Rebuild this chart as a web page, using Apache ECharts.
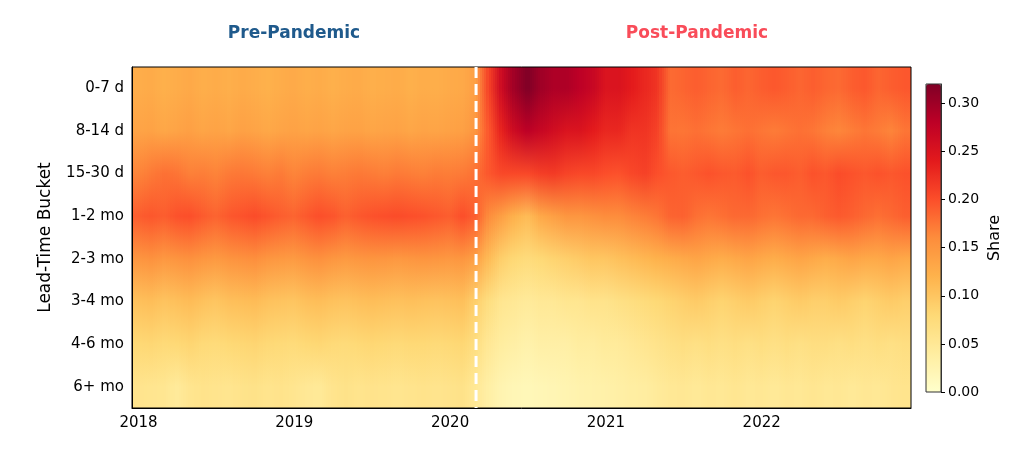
<!DOCTYPE html>
<html>
<head>
<meta charset="utf-8">
<script src="https://cdn.jsdelivr.net/npm/echarts@6/dist/echarts.min.js"></script>
<style>
  html, body { margin: 0; padding: 0; background: #fff; }
  #chart { width: 1024px; height: 455px; }
</style>
</head>
<body>
<div id="chart"></div>
<script>
// Lead-time buckets (top to bottom)
const buckets = ['0-7 d', '8-14 d', '15-30 d', '1-2 mo', '2-3 mo', '3-4 mo', '4-6 mo', '6+ mo'];

// Months Jan 2018 .. Dec 2022
const months = [];
for (let y = 2018; y <= 2022; y++) {
  for (let m = 1; m <= 12; m++) months.push(y + '-' + String(m).padStart(2, '0'));
}

const pandemicStart = '2020-03';

// share per month, one array per bucket
const share0to7d = [
  0.125, 0.128, 0.122, 0.126, 0.130, 0.124, 0.127, 0.123, 0.128, 0.125, 0.121, 0.126,
  0.129, 0.124, 0.127, 0.122, 0.126, 0.128, 0.123, 0.125, 0.127, 0.122, 0.126, 0.124,
  0.128, 0.130, 0.140, 0.210, 0.265, 0.300, 0.320, 0.300, 0.290, 0.290, 0.280, 0.270,
  0.250, 0.250, 0.240, 0.230, 0.220, 0.182, 0.186, 0.190, 0.186, 0.182, 0.190, 0.185,
  0.190, 0.194, 0.190, 0.185, 0.190, 0.185, 0.182, 0.190, 0.194, 0.185, 0.190, 0.194
];
const share8to14d = [
  0.135, 0.138, 0.132, 0.136, 0.140, 0.134, 0.137, 0.133, 0.139, 0.136, 0.131, 0.135,
  0.138, 0.134, 0.137, 0.133, 0.136, 0.138, 0.134, 0.136, 0.137, 0.133, 0.136, 0.135,
  0.138, 0.140, 0.150, 0.195, 0.235, 0.265, 0.280, 0.270, 0.260, 0.250, 0.250, 0.240,
  0.230, 0.230, 0.220, 0.220, 0.210, 0.176, 0.175, 0.179, 0.175, 0.171, 0.175, 0.179,
  0.175, 0.171, 0.175, 0.179, 0.175, 0.168, 0.164, 0.170, 0.175, 0.171, 0.165, 0.175
];
const share15to30d = [
  0.165, 0.172, 0.178, 0.176, 0.168, 0.170, 0.166, 0.172, 0.174, 0.172, 0.168, 0.172,
  0.165, 0.170, 0.172, 0.168, 0.170, 0.173, 0.171, 0.169, 0.172, 0.170, 0.168, 0.171,
  0.170, 0.172, 0.178, 0.195, 0.205, 0.205, 0.205, 0.212, 0.215, 0.208, 0.205, 0.205,
  0.200, 0.198, 0.205, 0.210, 0.200, 0.194, 0.190, 0.194, 0.198, 0.194, 0.192, 0.198,
  0.190, 0.194, 0.194, 0.190, 0.198, 0.194, 0.202, 0.198, 0.194, 0.198, 0.194, 0.198
];
const share1to2mo = [
  0.190, 0.195, 0.190, 0.198, 0.200, 0.192, 0.186, 0.194, 0.198, 0.202, 0.196, 0.190,
  0.186, 0.194, 0.200, 0.196, 0.188, 0.194, 0.198, 0.200, 0.202, 0.200, 0.198, 0.194,
  0.190, 0.200, 0.190, 0.160, 0.140, 0.120, 0.110, 0.130, 0.140, 0.150, 0.150, 0.155,
  0.160, 0.160, 0.165, 0.170, 0.175, 0.186, 0.188, 0.179, 0.175, 0.179, 0.183, 0.183,
  0.179, 0.175, 0.179, 0.183, 0.183, 0.189, 0.193, 0.189, 0.183, 0.179, 0.183, 0.189
];
const share2to3mo = [
  0.150, 0.155, 0.148, 0.152, 0.156, 0.150, 0.146, 0.152, 0.155, 0.158, 0.150, 0.147,
  0.145, 0.152, 0.156, 0.150, 0.146, 0.150, 0.152, 0.150, 0.148, 0.150, 0.152, 0.150,
  0.148, 0.150, 0.140, 0.110, 0.090, 0.080, 0.075, 0.080, 0.085, 0.090, 0.095, 0.100,
  0.100, 0.105, 0.110, 0.115, 0.120, 0.125, 0.130, 0.135, 0.130, 0.125, 0.130, 0.135,
  0.130, 0.125, 0.130, 0.135, 0.130, 0.125, 0.130, 0.135, 0.130, 0.130, 0.135, 0.130
];
const share3to4mo = [
  0.105, 0.108, 0.102, 0.106, 0.110, 0.104, 0.100, 0.106, 0.108, 0.110, 0.104, 0.102,
  0.100, 0.106, 0.108, 0.104, 0.102, 0.106, 0.108, 0.106, 0.104, 0.106, 0.104, 0.102,
  0.104, 0.106, 0.090, 0.070, 0.055, 0.050, 0.045, 0.050, 0.050, 0.055, 0.055, 0.060,
  0.060, 0.065, 0.070, 0.075, 0.080, 0.085, 0.090, 0.095, 0.090, 0.085, 0.090, 0.095,
  0.090, 0.085, 0.090, 0.095, 0.090, 0.090, 0.095, 0.090, 0.085, 0.090, 0.095, 0.090
];
const share4to6mo = [
  0.080, 0.082, 0.078, 0.080, 0.084, 0.078, 0.076, 0.080, 0.082, 0.084, 0.080, 0.078,
  0.076, 0.080, 0.082, 0.078, 0.076, 0.080, 0.082, 0.080, 0.078, 0.080, 0.080, 0.078,
  0.080, 0.082, 0.070, 0.050, 0.040, 0.035, 0.030, 0.035, 0.035, 0.035, 0.040, 0.040,
  0.045, 0.045, 0.050, 0.055, 0.060, 0.065, 0.070, 0.065, 0.070, 0.065, 0.070, 0.065,
  0.070, 0.065, 0.070, 0.065, 0.070, 0.070, 0.065, 0.070, 0.065, 0.070, 0.065, 0.070
];
const share6moPlus = [
  0.058, 0.056, 0.054, 0.045, 0.056, 0.060, 0.058, 0.056, 0.060, 0.062, 0.058, 0.060,
  0.056, 0.050, 0.048, 0.058, 0.062, 0.058, 0.060, 0.058, 0.056, 0.058, 0.060, 0.058,
  0.060, 0.062, 0.050, 0.035, 0.025, 0.020, 0.018, 0.020, 0.022, 0.025, 0.028, 0.030,
  0.032, 0.035, 0.038, 0.040, 0.045, 0.050, 0.052, 0.048, 0.052, 0.050, 0.055, 0.050,
  0.052, 0.048, 0.052, 0.050, 0.055, 0.050, 0.052, 0.048, 0.052, 0.050, 0.055, 0.058
];

const shareRows = [share0to7d, share8to14d, share15to30d, share1to2mo,
                   share2to3mo, share3to4mo, share4to6mo, share6moPlus];

// colour bar
const shareMin = 0;
const shareMax = 0.32;
const shareTicks = [0, 0.05, 0.10, 0.15, 0.20, 0.25, 0.30];
const ylOrRd = ['#ffffcc', '#ffeda0', '#fed976', '#feb24c', '#fd8d3c',
                '#fc4e2a', '#e31a1c', '#bd0026', '#800026'];

function hexToRgb(h) {
  return [parseInt(h.slice(1, 3), 16), parseInt(h.slice(3, 5), 16), parseInt(h.slice(5, 7), 16)];
}
const ylOrRdRgb = ylOrRd.map(hexToRgb);

// same linear colormap the visualMap uses
function shareRgb(v) {
  let t = (v - shareMin) / (shareMax - shareMin);
  t = Math.max(0, Math.min(1, t)) * (ylOrRdRgb.length - 1);
  const i = Math.min(Math.floor(t), ylOrRdRgb.length - 2);
  const f = t - i;
  const a = ylOrRdRgb[i], b = ylOrRdRgb[i + 1];
  return a.map((c, k) => c + (b[k] - c) * f);
}
function mixRgb(a, b, f) {
  return a.map((c, k) => c + (b[k] - c) * f);
}
function rgbStr(a) {
  return 'rgb(' + a.map(Math.round).join(',') + ')';
}
function cellRgb(i, j) {
  const jj = Math.max(0, Math.min(shareRows.length - 1, j));
  const ii = Math.max(0, Math.min(months.length - 1, i));
  return shareRgb(shareRows[jj][ii]);
}

// [month index, bucket index, share]
const cells = [];
shareRows.forEach((row, j) => {
  row.forEach((v, i) => cells.push([i, j, v]));
});

// a cell is painted as thin strips, each shaded towards its neighbours' colours,
// so the picture blends like a smoothed image.
// edges are snapped to whole pixels, otherwise antialiasing leaves faint seams
const stripsPerCell = 6;
function renderCell(params, api) {
  const i = api.value(0), j = api.value(1);
  const c = api.coord([i, j]);
  const s = api.size([1, 1]);
  const left = c[0] - s[0] / 2;
  const sw = s[0] / stripsPerCell;
  const y0 = Math.floor(c[1] - s[1] / 2);
  const y1 = Math.ceil(c[1] + s[1] / 2);
  const children = [];
  for (let k = 0; k < stripsPerCell; k++) {
    const u = (k + 0.5) / stripsPerCell - 0.5;
    const ni = u < 0 ? i - 1 : i + 1;
    const w = Math.abs(u);
    const col = (jj) => rgbStr(mixRgb(cellRgb(i, jj), cellRgb(ni, jj), w));
    const x0 = Math.floor(left + k * sw);
    const x1 = Math.ceil(left + (k + 1) * sw);
    children.push({
      type: 'rect',
      shape: { x: x0, y: y0, width: x1 - x0, height: y1 - y0 },
      style: {
        fill: new echarts.graphic.LinearGradient(0, c[1] - s[1], 0, c[1] + s[1], [
          { offset: 0, color: col(j - 1) },
          { offset: 0.5, color: col(j) },
          { offset: 1, color: col(j + 1) }
        ], true)
      }
    });
  }
  return { type: 'group', children: children };
}

// white dashed marker at the start of the pandemic, full plot height
function renderMarker(params, api) {
  const x = api.coord([api.value(0), 0])[0];
  const cs = params.coordSys;
  return {
    type: 'line',
    shape: { x1: x, y1: cs.y, x2: x, y2: cs.y + cs.height },
    style: { stroke: '#fff', lineWidth: 3, lineDash: [11, 6] }
  };
}

const font = 'DejaVu Sans';
const chart = echarts.init(document.getElementById('chart'), null, { renderer: 'canvas' });

chart.setOption({
  animation: false,
  backgroundColor: '#fff',
  textStyle: { fontFamily: font, color: '#000' },
  title: [
    { text: 'Pre-Pandemic', left: 289, top: 20, textAlign: 'center',
      textStyle: { fontFamily: font, fontSize: 17, fontWeight: 'bold', color: '#1f5a8c' } },
    { text: 'Post-Pandemic', left: 692, top: 20, textAlign: 'center',
      textStyle: { fontFamily: font, fontSize: 17, fontWeight: 'bold', color: '#f94c59' } }
  ],
  grid: [
    { left: 132, top: 67, width: 779, height: 341, show: true, z: 6,
      backgroundColor: 'transparent', borderColor: '#000', borderWidth: 1 },
    { left: 926, top: 84, width: 15, height: 308, show: true, z: 3,
      backgroundColor: 'transparent', borderColor: '#333', borderWidth: 1 }
  ],
  xAxis: [
    {
      type: 'category', gridIndex: 0, data: months, boundaryGap: true, z: 7,
      axisLine: { lineStyle: { color: '#000', width: 1 } },
      axisTick: { alignWithLabel: true, interval: (i) => i % 12 === 0, length: 4, lineStyle: { color: '#000' } },
      axisLabel: { interval: (i) => i % 12 === 0, formatter: (v) => v.slice(0, 4),
                   fontSize: 15, color: '#000', margin: 8, fontFamily: font },
      splitLine: { show: false }
    },
    {
      type: 'category', gridIndex: 1, data: ['Share'], show: false
    }
  ],
  yAxis: [
    {
      type: 'category', gridIndex: 0, data: buckets, inverse: true, z: 7,
      name: 'Lead-Time Bucket', nameLocation: 'middle', nameGap: 78, nameRotate: 90,
      nameTextStyle: { fontSize: 17, color: '#000', fontFamily: font },
      axisLine: { lineStyle: { color: '#000', width: 1 } },
      axisTick: { alignWithLabel: true, length: 4, lineStyle: { color: '#000' } },
      axisLabel: { fontSize: 15, color: '#000', margin: 8, fontFamily: font },
      splitLine: { show: false }
    },
    {
      type: 'value', gridIndex: 1, min: shareMin, max: shareMax, interval: 0.05,
      position: 'right', z: 5,
      name: 'Share', nameLocation: 'middle', nameGap: 46, nameRotate: 90,
      nameTextStyle: { fontSize: 16, color: '#000', fontFamily: font },
      axisLine: { show: true, lineStyle: { color: '#333', width: 1 } },
      axisTick: { show: true, length: 4, customValues: shareTicks, lineStyle: { color: '#000' } },
      axisLabel: { fontSize: 14, color: '#000', margin: 7, fontFamily: font,
                   customValues: shareTicks, formatter: (v) => v.toFixed(2) },
      splitLine: { show: false }
    }
  ],
  visualMap: {
    type: 'continuous', min: shareMin, max: shareMax, dimension: 2, seriesIndex: 0,
    calculable: false, orient: 'vertical', left: 926, top: 84, padding: 0,
    itemWidth: 15, itemHeight: 308, z: 1,
    inRange: { color: ylOrRd },
    textStyle: { color: 'transparent' }
  },
  series: [
    {
      type: 'custom',
      xAxisIndex: 0, yAxisIndex: 0,
      data: cells,
      encode: { x: 0, y: 1 },
      renderItem: renderCell,
      silent: true
    },
    {
      type: 'custom',
      xAxisIndex: 0, yAxisIndex: 0,
      data: [[months.indexOf(pandemicStart), 0]],
      encode: { x: 0, y: 1 },
      renderItem: renderMarker,
      silent: true,
      z: 10
    }
  ]
});
</script>
</body>
</html>
